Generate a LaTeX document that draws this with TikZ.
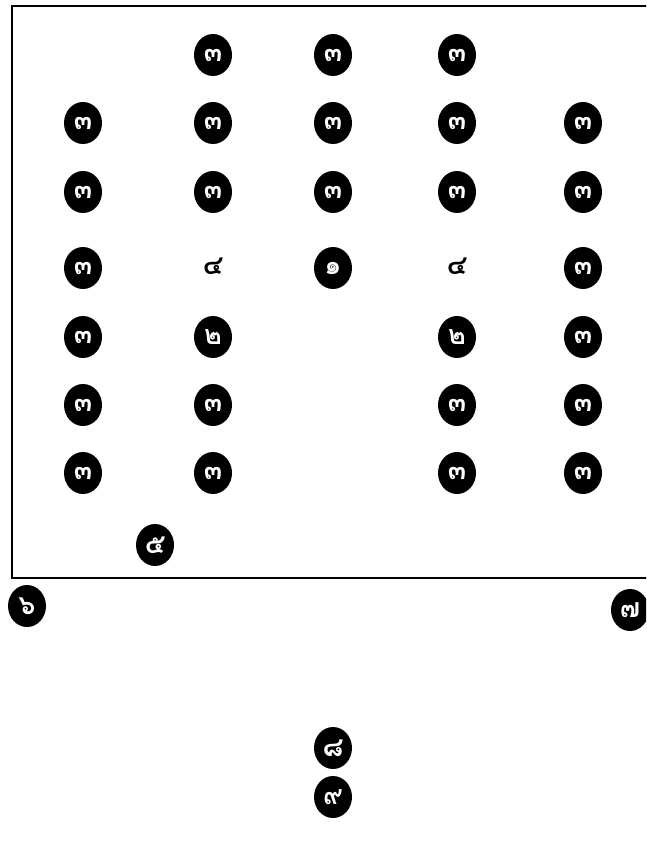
\documentclass[tikz,border=0pt]{standalone}
\usepackage{fontspec}
\newfontfamily\thaifont[Script=Thai]{Loma}
\usetikzlibrary{shapes.geometric}
\begin{document}
\begin{tikzpicture}[x=1pt,y=-1pt,
  num/.style={ellipse,fill=black,text=white,minimum width=38pt,minimum height=42pt,inner sep=0pt,font=\thaifont\bfseries\fontsize{27}{27}\selectfont},
  plain/.style={text=black,inner sep=0pt,font=\thaifont\bfseries\fontsize{27}{27}\selectfont}]
\useasboundingbox (0,0) rectangle (646,850);
\clip (0,0) rectangle (646,850);
\draw[line width=2pt] (660,6) -- (12,6) -- (12,578) -- (660,578);
% row 1
\node[num] (r1c2) at (213,55) {๓};
\node[num] (r1c3) at (333,55) {๓};
\node[num] (r1c4) at (457,55) {๓};
% rows 2-3
\foreach \r/\y in {2/123,3/192}{
  \foreach \c/\x in {1/83,2/213,3/333,4/457,5/583}{
    \node[num] (r\r c\c) at (\x,\y) {๓};
  }
}
% row 4
\node[num] (r4c1) at (83,268) {๓};
\node[plain] (r4c2) at (213,266) {๔};
\node[num] (r4c3) at (333,268) {๑};
\node[plain] (r4c4) at (457,266) {๔};
\node[num] (r4c5) at (583,268) {๓};
% row 5
\node[num] (r5c1) at (83,337) {๓};
\node[num] (r5c2) at (213,337) {๒};
\node[num] (r5c4) at (457,337) {๒};
\node[num] (r5c5) at (583,337) {๓};
% rows 6-7
\foreach \r/\y in {6/405,7/473}{
  \foreach \c/\x in {1/83,2/213,4/457,5/583}{
    \node[num] (r\r c\c) at (\x,\y) {๓};
  }
}
\node[num] (n5) at (155,545) {๕};
\node[num] (n6) at (27,606) {๖};
\node[num] (n7) at (630,610) {๗};
\node[num] (n8) at (333,748) {๘};
\node[num] (n9) at (333,797) {๙};
\end{tikzpicture}
\end{document}
